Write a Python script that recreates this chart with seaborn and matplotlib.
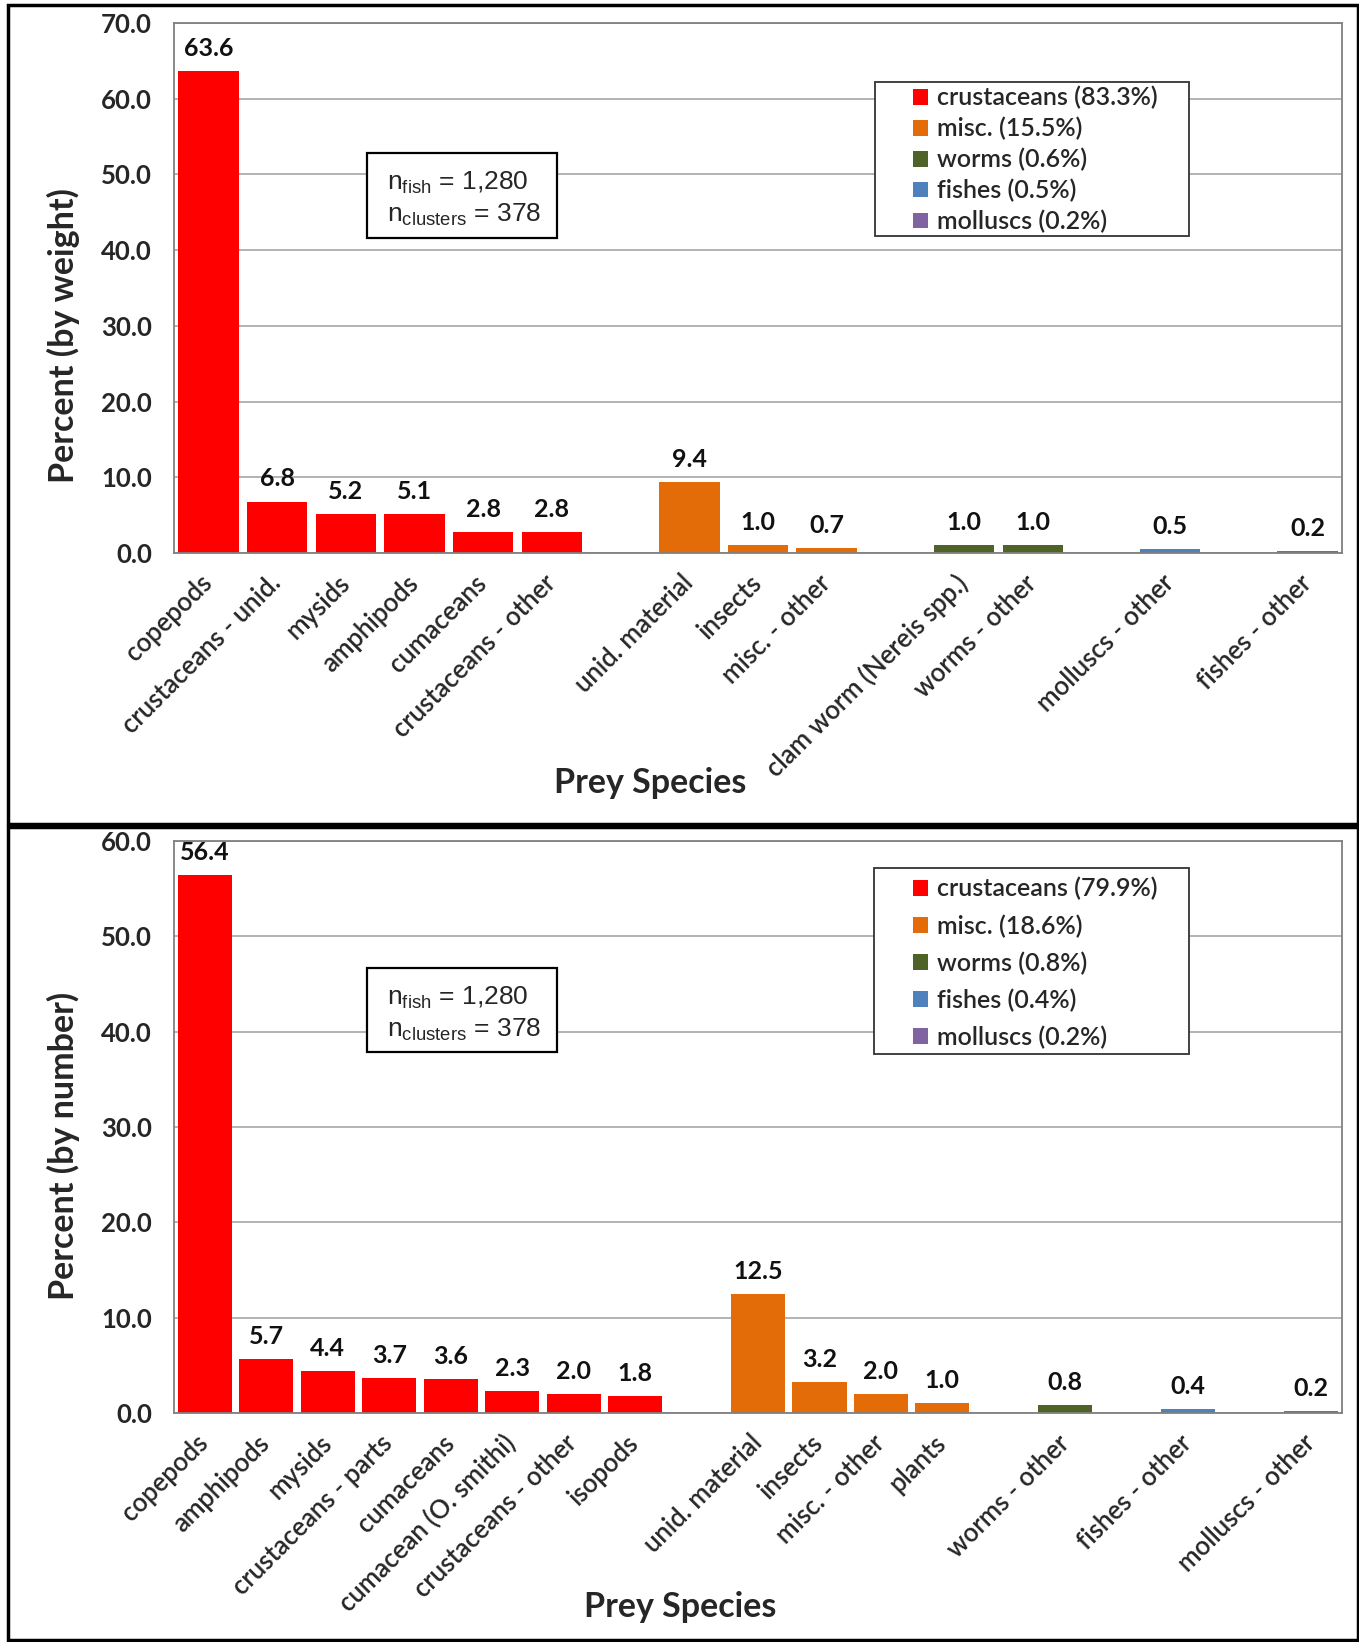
import matplotlib
matplotlib.use("Agg")
import matplotlib.pyplot as plt
import seaborn as sns
import pandas as pd
from matplotlib.patches import Patch, Rectangle
from matplotlib.ticker import FormatStrFormatter

# Percent by weight
weight_labels = ["copepods", "crustaceans - unid.", "mysids", "amphipods", "cumaceans",
                 "crustaceans - other", "unid. material", "insects", "misc. - other",
                 "clam worm (Nereis spp.)", "worms - other", "molluscs - other", "fishes - other"]
weight_values = [63.6, 6.8, 5.2, 5.1, 2.8, 2.8, 9.4, 1.0, 0.7, 1.0, 1.0, 0.5, 0.2]
weight_groups = ["crustaceans", "crustaceans", "crustaceans", "crustaceans", "crustaceans",
                 "crustaceans", "misc.", "misc.", "misc.", "worms", "worms", "fishes", "molluscs"]

# Percent by number
number_labels = ["copepods", "amphipods", "mysids", "crustaceans - parts", "cumaceans",
                 "cumacean (O. smithi)", "crustaceans - other", "isopods", "unid. material",
                 "insects", "misc. - other", "plants", "worms - other", "fishes - other",
                 "molluscs - other"]
number_values = [56.4, 5.7, 4.4, 3.7, 3.6, 2.3, 2.0, 1.8, 12.5, 3.2, 2.0, 1.0, 0.8, 0.4, 0.2]
number_groups = ["crustaceans", "crustaceans", "crustaceans", "crustaceans", "crustaceans",
                 "crustaceans", "crustaceans", "crustaceans", "misc.", "misc.", "misc.", "misc.",
                 "worms", "fishes", "molluscs"]

# Legend
legend_groups = ["crustaceans", "misc.", "worms", "fishes", "molluscs"]
weight_shares = [83.3, 15.5, 0.6, 0.5, 0.2]
number_shares = [79.9, 18.6, 0.8, 0.4, 0.2]
group_colors = ["#FF0000", "#E36C09", "#4F6228", "#4F81BD", "#8064A2"]

n_fish = "1,280"
n_clusters = "378"

sns.set_style("white")
plt.rcParams["font.family"] = ["Lato", "DejaVu Sans"]
plt.rcParams["mathtext.fontset"] = "custom"
plt.rcParams["mathtext.rm"] = "Liberation Sans"

W, H = 1359, 1642


def build_order(labels, groups):
    # insert an empty slot between groups
    order = []
    k = 0
    for i, lab in enumerate(labels):
        if i > 0 and groups[i] != groups[i - 1]:
            k += 1
            order.append(" " * k)
        order.append(lab)
    return order


def draw_panel(ax, labels, values, groups, shares, ymax, ylabel,
               leg_rect, leg_anchor, leg_spacing, box_rect, box_mid,
               ylabel_pos, xlabel_pos):
    df = pd.DataFrame({"label": labels, "value": values, "group": groups})
    order = build_order(labels, groups)
    palette = dict(zip(legend_groups, group_colors))
    sns.barplot(data=df, x="label", y="value", hue="group", order=order,
                hue_order=legend_groups, palette=palette, dodge=False, width=0.88,
                linewidth=0, saturation=1, legend=False, ax=ax)

    for c in ax.containers:
        ax.bar_label(c, fmt="%.1f", padding=8, fontsize=18, fontweight="bold", color="#111111")

    ax.set_ylim(0, ymax)
    ax.set_yticks(range(0, ymax + 1, 10))
    ax.yaxis.set_major_formatter(FormatStrFormatter("%.1f"))
    ax.yaxis.grid(True, color="#A6A6A6", linewidth=1.2)
    ax.xaxis.grid(False)
    ax.set_axisbelow(True)
    for s in ax.spines.values():
        s.set_color("#808080")
        s.set_linewidth(1.3)

    ax.tick_params(axis="y", length=0, pad=16, labelsize=18.5)
    for t in ax.get_yticklabels():
        t.set_fontweight("bold")
    ax.tick_params(axis="x", length=0, pad=19, labelsize=18.5)
    ax.set_xticks(range(len(order)))
    ax.set_xticklabels(order, rotation=45, ha="right", va="center", rotation_mode="anchor",
                       fontweight="semibold")

    ax.set_ylabel(ylabel, fontsize=24.5, fontweight="bold", va="center")
    ax.yaxis.set_label_coords(*ylabel_pos)
    ax.set_xlabel("Prey Species", fontsize=24.5, fontweight="bold", va="center")
    ax.xaxis.set_label_coords(*xlabel_pos)

    # legend (white box drawn underneath)
    x0, y0, x1, y1 = leg_rect
    ax.add_patch(Rectangle((x0, y0), x1 - x0, y1 - y0, transform=ax.transAxes,
                           facecolor="white", edgecolor="#333333", linewidth=1.3, zorder=4))
    handles = [Patch(facecolor=c, edgecolor="none") for c in group_colors]
    texts = [f"{g} ({s:.1f}%)" for g, s in zip(legend_groups, shares)]
    leg = ax.legend(handles, texts, loc="upper left", bbox_to_anchor=leg_anchor, frameon=False,
                    prop={"size": 18, "weight": "semibold"}, handlelength=0.6, handleheight=0.6,
                    handletextpad=0.35, labelspacing=leg_spacing, borderpad=0, borderaxespad=0)
    leg.set_zorder(6)

    # n box
    x0, y0, x1, y1 = box_rect
    ax.add_patch(Rectangle((x0, y0), x1 - x0, y1 - y0, transform=ax.transAxes,
                           facecolor="white", edgecolor="black", linewidth=1.6, zorder=5))
    txt = "n$_{\\mathrm{fish}}$ = " + n_fish + "\nn$_{\\mathrm{clusters}}$ = " + n_clusters
    ax.text(x0 + 0.017, box_mid, txt, transform=ax.transAxes, ha="left", va="center",
            fontsize=19, family="Liberation Sans", linespacing=1.3, zorder=6)


fig = plt.figure(figsize=(W / 100, H / 100), dpi=100)

ax1 = fig.add_axes([174 / W, 1 - 553 / H, 1168 / W, 530 / H])
draw_panel(ax1, weight_labels, weight_values, weight_groups, weight_shares, 70,
           "Percent (by weight)",
           leg_rect=(0.600, 0.598, 0.869, 0.889), leg_anchor=(0.633, 0.881), leg_spacing=0.3,
           box_rect=(0.165, 0.594, 0.328, 0.755), box_mid=0.668,
           ylabel_pos=(-0.095, 0.411), xlabel_pos=(0.408, -0.434))

ax2 = fig.add_axes([174 / W, 1 - 1413 / H, 1168 / W, 572 / H])
draw_panel(ax2, number_labels, number_values, number_groups, number_shares, 60,
           "Percent (by number)",
           leg_rect=(0.599, 0.628, 0.869, 0.953), leg_anchor=(0.633, 0.937), leg_spacing=0.55,
           box_rect=(0.165, 0.631, 0.328, 0.778), box_mid=0.698,
           ylabel_pos=(-0.095, 0.467), xlabel_pos=(0.433, -0.339))

# panel borders
fig.add_artist(Rectangle((8 / W, 1 - 824 / H), 1350 / W, 819 / H, transform=fig.transFigure,
                         facecolor="none", edgecolor="black", linewidth=2.5))
fig.add_artist(Rectangle((8 / W, 0.001), 1350 / W, 1 - 827 / H - 0.001, transform=fig.transFigure,
                         facecolor="none", edgecolor="black", linewidth=2.5))

fig.savefig("out.png", dpi=100)
